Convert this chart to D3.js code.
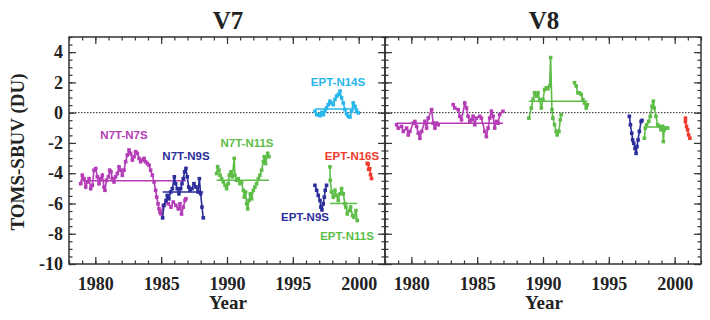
<!DOCTYPE html>
<html>
<head>
<meta charset="utf-8">
<script src="https://d3js.org/d3.v7.min.js"></script>
<style>
  body { margin: 0; background: #fff; }
  .tick text { font-family: "Liberation Serif", "Times New Roman", serif; font-weight: bold; font-size: 18px; fill: #222; }
  .tag { font-family: "Liberation Sans Narrow", "Arial Narrow", "Liberation Sans", sans-serif; font-weight: bold; font-size: 11.5px; }
</style>
</head>
<body>
<div class="chart"></div>
<script>
// ---- data: [year, TOMS - SBUV (DU)] ----
// V7 panel
var v7_n7t_n7s = [[1978.89,-4.69],[1979.01,-4.13],[1979.14,-4.36],[1979.27,-4.91],[1979.39,-4.58],[1979.52,-4.36],[1979.65,-5.02],[1979.77,-4.80],[1979.90,-3.80],[1980.03,-3.69],[1980.15,-4.24],[1980.28,-4.69],[1980.41,-4.36],[1980.53,-4.13],[1980.66,-4.91],[1980.73,-5.13],[1980.84,-4.47],[1980.99,-4.24],[1981.09,-3.80],[1981.19,-3.91],[1981.29,-4.36],[1981.42,-4.58],[1981.54,-4.24],[1981.67,-4.02],[1981.80,-3.58],[1981.92,-3.80],[1982.05,-4.13],[1982.18,-3.80],[1982.30,-3.24],[1982.43,-2.80],[1982.56,-2.47],[1982.68,-2.69],[1982.81,-3.13],[1982.94,-2.91],[1983.06,-2.58],[1983.19,-2.69],[1983.32,-3.02],[1983.44,-3.24],[1983.57,-3.13],[1983.70,-3.02],[1983.82,-3.24],[1983.95,-3.36],[1984.08,-3.47],[1984.20,-3.80],[1984.33,-4.13],[1984.46,-4.58],[1984.58,-5.13],[1984.66,-5.58],[1984.76,-6.02],[1984.84,-6.36],[1984.91,-6.58],[1984.99,-6.69],[1985.16,-6.13],[1985.37,-5.91],[1985.54,-6.02],[1985.75,-6.24],[1985.92,-5.91],[1986.12,-6.13],[1986.30,-6.36],[1986.43,-6.02],[1986.55,-6.70],[1986.68,-6.24],[1986.81,-5.80],[1986.88,-5.69]];
var v7_n7t_n9s = [[1985.11,-6.95],[1985.21,-6.13],[1985.37,-5.80],[1985.46,-5.47],[1985.59,-5.69],[1985.72,-5.24],[1985.85,-5.02],[1986.00,-4.24],[1986.10,-4.69],[1986.22,-5.02],[1986.35,-5.36],[1986.48,-5.02],[1986.58,-4.69],[1986.68,-4.36],[1986.78,-3.91],[1986.88,-3.69],[1986.98,-4.24],[1987.09,-4.91],[1987.19,-5.13],[1987.34,-5.02],[1987.49,-4.69],[1987.64,-4.91],[1987.80,-5.24],[1987.90,-4.36],[1988.00,-5.36],[1988.10,-6.24],[1988.20,-6.95]];
var v7_n7t_n11s = [[1989.21,-4.02],[1989.29,-3.58],[1989.39,-3.80],[1989.47,-4.13],[1989.59,-4.36],[1989.72,-4.58],[1989.85,-4.80],[1989.97,-5.02],[1990.10,-4.69],[1990.17,-4.13],[1990.30,-3.91],[1990.40,-4.24],[1990.55,-3.02],[1990.60,-4.13],[1990.73,-4.47],[1990.86,-4.36],[1990.98,-4.69],[1991.11,-4.58],[1991.24,-5.13],[1991.31,-5.58],[1991.41,-5.24],[1991.49,-6.02],[1991.57,-6.36],[1991.67,-5.80],[1991.77,-5.36],[1991.87,-5.69],[1992.00,-5.13],[1992.12,-4.91],[1992.25,-4.69],[1992.38,-4.36],[1992.50,-4.13],[1992.63,-3.80],[1992.76,-3.24],[1992.83,-2.91],[1992.93,-3.36],[1993.09,-2.69],[1993.19,-2.91]];
var v7_ept_n14s = [[1996.68,0.09],[1996.81,-0.13],[1996.93,-0.13],[1997.06,-0.20],[1997.19,0.02],[1997.31,-0.13],[1997.44,0.09],[1997.56,0.31],[1997.69,0.53],[1997.82,0.76],[1997.94,0.64],[1998.07,0.53],[1998.20,0.87],[1998.32,1.09],[1998.45,1.20],[1998.58,1.42],[1998.70,0.98],[1998.83,0.64],[1998.96,0.20],[1999.08,-0.07],[1999.21,-0.24],[1999.34,-0.29],[1999.46,0.09],[1999.59,0.64],[1999.72,0.42],[1999.84,0.09],[1999.97,-0.02]];
var v7_ept_n9s = [[1996.68,-4.80],[1996.81,-5.13],[1996.93,-5.47],[1997.06,-5.80],[1997.13,-6.24],[1997.21,-6.42],[1997.31,-6.02],[1997.39,-5.58],[1997.46,-5.13],[1997.56,-4.80]];
var v7_ept_n11s = [[1997.82,-3.58],[1997.84,-4.47],[1997.94,-5.24],[1998.07,-5.58],[1998.20,-5.13],[1998.32,-5.47],[1998.45,-5.80],[1998.58,-5.36],[1998.70,-5.02],[1998.83,-5.36],[1998.96,-6.02],[1999.03,-6.24],[1999.13,-6.69],[1999.29,-6.47],[1999.39,-6.24],[1999.54,-6.80],[1999.64,-6.91],[1999.79,-6.47],[1999.89,-7.13]];
var v7_ept_n16s = [[2000.65,-3.35],[2000.72,-3.40],[2000.76,-3.75],[2000.84,-3.70],[2000.90,-4.10],[2000.98,-4.35]];
var v7_means = {n7t_n7s: -4.5, n7t_n9s: -5.25, n7t_n11s: -4.47, ept_n14s: 0.24, ept_n11s: -6.0};

// V8 panel (null = data gap)
var v8_n7t_n7s = [[1978.88,-0.80],[1979.01,-1.02],[1979.26,-0.91],[1979.39,-1.24],[1979.64,-1.02],[1979.77,-1.47],[1979.89,-1.24],[1980.15,-0.69],[1980.27,-0.58],[1980.40,-0.91],[1980.53,-1.36],[1980.65,-1.69],[1980.78,-1.24],[1981.03,-0.58],[1981.16,-1.02],[1981.28,-0.36],[1981.54,0.20],[1981.66,-0.69],[1981.79,-1.02],[1981.91,-0.69],[1982.04,-0.80],[1982.6,null],[1983.18,0.53],[1983.30,0.31],[1983.56,0.20],[1983.68,-0.24],[1983.81,-0.47],[1984.06,0.64],[1984.19,0.31],[1984.31,-0.24],[1984.44,-0.58],[1984.57,-0.47],[1984.69,-0.24],[1984.82,-0.80],[1984.94,-0.36],[1985.20,-0.24],[1985.32,-0.36],[1985.58,-1.24],[1985.70,-1.58],[1985.83,-1.02],[1985.95,-0.36],[1986.08,0.09],[1986.21,-0.24],[1986.33,-1.02],[1986.46,-0.58],[1986.59,-0.69],[1986.71,-0.13],[1986.96,0.09]];
var v8_n7t_n11s = [[1988.93,-0.36],[1989.11,0.31],[1989.24,0.87],[1989.36,1.31],[1989.49,1.09],[1989.62,1.31],[1989.74,0.87],[1989.87,0.31],[1990.00,0.87],[1990.12,1.53],[1990.25,1.64],[1990.37,1.58],[1990.50,1.76],[1990.58,3.64],[1990.68,0.20],[1990.75,-0.36],[1990.88,-0.80],[1991.00,-1.24],[1991.08,-1.47],[1991.21,-1.24],[1991.31,-0.47],[1991.38,-0.13],[1991.9,null],[1992.39,1.98],[1992.52,1.76],[1992.65,1.31],[1992.77,1.31],[1992.90,1.20],[1993.03,0.87],[1993.15,0.64],[1993.28,0.31],[1993.36,0.53]];
var v8_ept_n9s = [[1996.56,-0.24],[1996.64,-0.80],[1996.74,-1.36],[1996.81,-1.80],[1996.89,-2.02],[1996.99,-2.36],[1997.07,-2.69],[1997.14,-2.24],[1997.22,-1.80],[1997.32,-1.24],[1997.45,-0.58],[1997.52,-0.51]];
var v8_ept_n11s = [[1997.70,-1.69],[1997.77,-1.02],[1997.87,-0.80],[1998.03,-0.58],[1998.15,-0.24],[1998.28,0.42],[1998.38,0.76],[1998.45,0.31],[1998.58,-0.24],[1998.71,-0.80],[1998.83,-0.91],[1998.96,-1.13],[1999.09,-0.91],[1999.14,-1.91],[1999.21,-1.13],[1999.34,-1.02],[1999.47,-1.02]];
var v8_ept_n16s = [[2000.82,-0.36],[2000.82,-0.60],[2000.90,-0.91],[2000.98,-1.13],[2001.06,-1.47],[2001.16,-1.69]];
var v8_means = {n7t_n7s: -0.7, n7t_n11s: 0.76, ept_n11s: -0.95};

// axis ticks
var yearMajor = [1980, 1985, 1990, 1995, 2000];
var yearMinor = d3.range(1978, 2003, 1);
var duMajor = [-10, -8, -6, -4, -2, 0, 2, 4];
var duMinor = d3.range(-10, 5.01, 0.5);

var colors = {
  magenta: "#b53cb6",
  navy: "#2b2d9a",
  green: "#5dbd47",
  cyan: "#27b6ea",
  red: "#ee3b2c"
};

var svgWidth = 710;
var svgHeight = 320;
var panelW = 316;
var panelH = 227;
var top0 = 37;

var svg = d3.select(".chart")
  .append("svg")
  .attr("width", svgWidth)
  .attr("height", svgHeight);

var x = d3.scaleLinear().domain([1978, 2002]).range([0, panelW]);
var y = d3.scaleLinear().domain([-10, 5]).range([panelH, 0]);

function drawPanel(left, title, series, tags, withYLabels) {
  var g = svg.append("g").attr("transform", `translate(${left}, ${top0})`);

  // zero reference line
  g.append("line")
    .attr("x1", 0).attr("x2", panelW)
    .attr("y1", y(0)).attr("y2", y(0))
    .attr("stroke", "#222").attr("stroke-width", 1)
    .attr("stroke-dasharray", "1.5,1.5");

  // ticks (inward) on all four sides
  function ticks(axisFn, values, size, labels, transform, pad) {
    var a = axisFn.tickValues(values).tickSize(-size).tickPadding(pad || 0);
    a.tickFormat(labels ? (d => String(d)) : "");
    var ag = g.append("g").attr("transform", transform).call(a);
    ag.select(".domain").remove();
    ag.selectAll("line").attr("stroke", "#333").attr("stroke-width", 1.2);
    return ag;
  }
  ticks(d3.axisBottom(x), yearMinor, 3.5, false, `translate(0, ${panelH})`);
  ticks(d3.axisBottom(x), yearMajor, 7, true, `translate(0, ${panelH})`, 13);
  ticks(d3.axisTop(x), yearMinor, 3.5, false, "translate(0,0)");
  ticks(d3.axisTop(x), yearMajor, 7, false, "translate(0,0)");
  ticks(d3.axisLeft(y), duMinor, 3.5, false, "translate(0,0)");
  ticks(d3.axisLeft(y), duMajor, 7, withYLabels, "translate(0,0)", 6);
  ticks(d3.axisRight(y), duMinor, 3.5, false, `translate(${panelW},0)`);
  ticks(d3.axisRight(y), duMajor, 7, false, `translate(${panelW},0)`);

  // frame
  g.append("rect")
    .attr("width", panelW).attr("height", panelH)
    .attr("fill", "none").attr("stroke", "#333").attr("stroke-width", 1.5);

  var line = d3.line()
    .defined(d => d[1] != null)
    .x(d => x(d[0]))
    .y(d => y(d[1]));

  series.forEach(function (s) {
    var pts = s.data.filter(d => d[1] != null);
    if (s.mean != null) {
      g.append("line")
        .attr("x1", x(pts[0][0])).attr("x2", x(pts[pts.length - 1][0]))
        .attr("y1", y(s.mean)).attr("y2", y(s.mean))
        .attr("stroke", s.color).attr("stroke-width", 1.5);
    }
    g.append("path")
      .datum(s.data)
      .attr("d", line)
      .attr("fill", "none")
      .attr("stroke", s.color)
      .attr("stroke-width", 1.6);
    g.selectAll(null)
      .data(pts)
      .enter()
      .append("rect")
      .attr("x", d => x(d[0]) - 1.8)
      .attr("y", d => y(d[1]) - 1.8)
      .attr("width", 3.6)
      .attr("height", 3.6)
      .attr("fill", s.color);
  });

  tags.forEach(function (t) {
    g.append("text")
      .attr("class", "tag")
      .attr("x", t.x - left)
      .attr("y", t.y - top0)
      .attr("text-anchor", "middle")
      .attr("fill", t.color)
      .text(t.text);
  });

  // title
  svg.append("text")
    .attr("x", left + panelW / 2 + 1)
    .attr("y", 29)
    .attr("text-anchor", "middle")
    .style("font-family", "'Liberation Serif', 'Times New Roman', serif")
    .style("font-weight", "bold")
    .style("font-size", "25px")
    .attr("fill", "#222")
    .text(title);

  // x label
  svg.append("text")
    .attr("x", left + panelW / 2 + 1)
    .attr("y", 309)
    .attr("text-anchor", "middle")
    .style("font-family", "'Liberation Serif', 'Times New Roman', serif")
    .style("font-weight", "bold")
    .style("font-size", "19px")
    .attr("fill", "#222")
    .text("Year");
}

drawPanel(69, "V7", [
  {data: v7_n7t_n7s, color: colors.magenta, mean: v7_means.n7t_n7s},
  {data: v7_n7t_n9s, color: colors.navy, mean: v7_means.n7t_n9s},
  {data: v7_n7t_n11s, color: colors.green, mean: v7_means.n7t_n11s},
  {data: v7_ept_n14s, color: colors.cyan, mean: v7_means.ept_n14s},
  {data: v7_ept_n9s, color: colors.navy},
  {data: v7_ept_n11s, color: colors.green, mean: v7_means.ept_n11s},
  {data: v7_ept_n16s, color: colors.red}
], [
  {text: "N7T-N7S", x: 124, y: 139, color: colors.magenta},
  {text: "N7T-N9S", x: 186, y: 160, color: colors.navy},
  {text: "N7T-N11S", x: 247, y: 147, color: colors.green},
  {text: "EPT-N14S", x: 338, y: 86, color: colors.cyan},
  {text: "EPT-N16S", x: 352, y: 160, color: colors.red},
  {text: "EPT-N9S", x: 305, y: 221, color: colors.navy},
  {text: "EPT-N11S", x: 347, y: 240, color: colors.green}
], true);

drawPanel(385, "V8", [
  {data: v8_n7t_n7s, color: colors.magenta, mean: v8_means.n7t_n7s},
  {data: v8_n7t_n11s, color: colors.green, mean: v8_means.n7t_n11s},
  {data: v8_ept_n9s, color: colors.navy},
  {data: v8_ept_n11s, color: colors.green, mean: v8_means.ept_n11s},
  {data: v8_ept_n16s, color: colors.red}
], [], false);

// y axis title
svg.append("text")
  .attr("transform", "translate(24, 152) rotate(-90)")
  .attr("text-anchor", "middle")
  .style("font-family", "'Liberation Serif', 'Times New Roman', serif")
  .style("font-weight", "bold")
  .style("font-size", "19px")
  .attr("fill", "#222")
  .text("TOMS-SBUV (DU)");
</script>
</body>
</html>
